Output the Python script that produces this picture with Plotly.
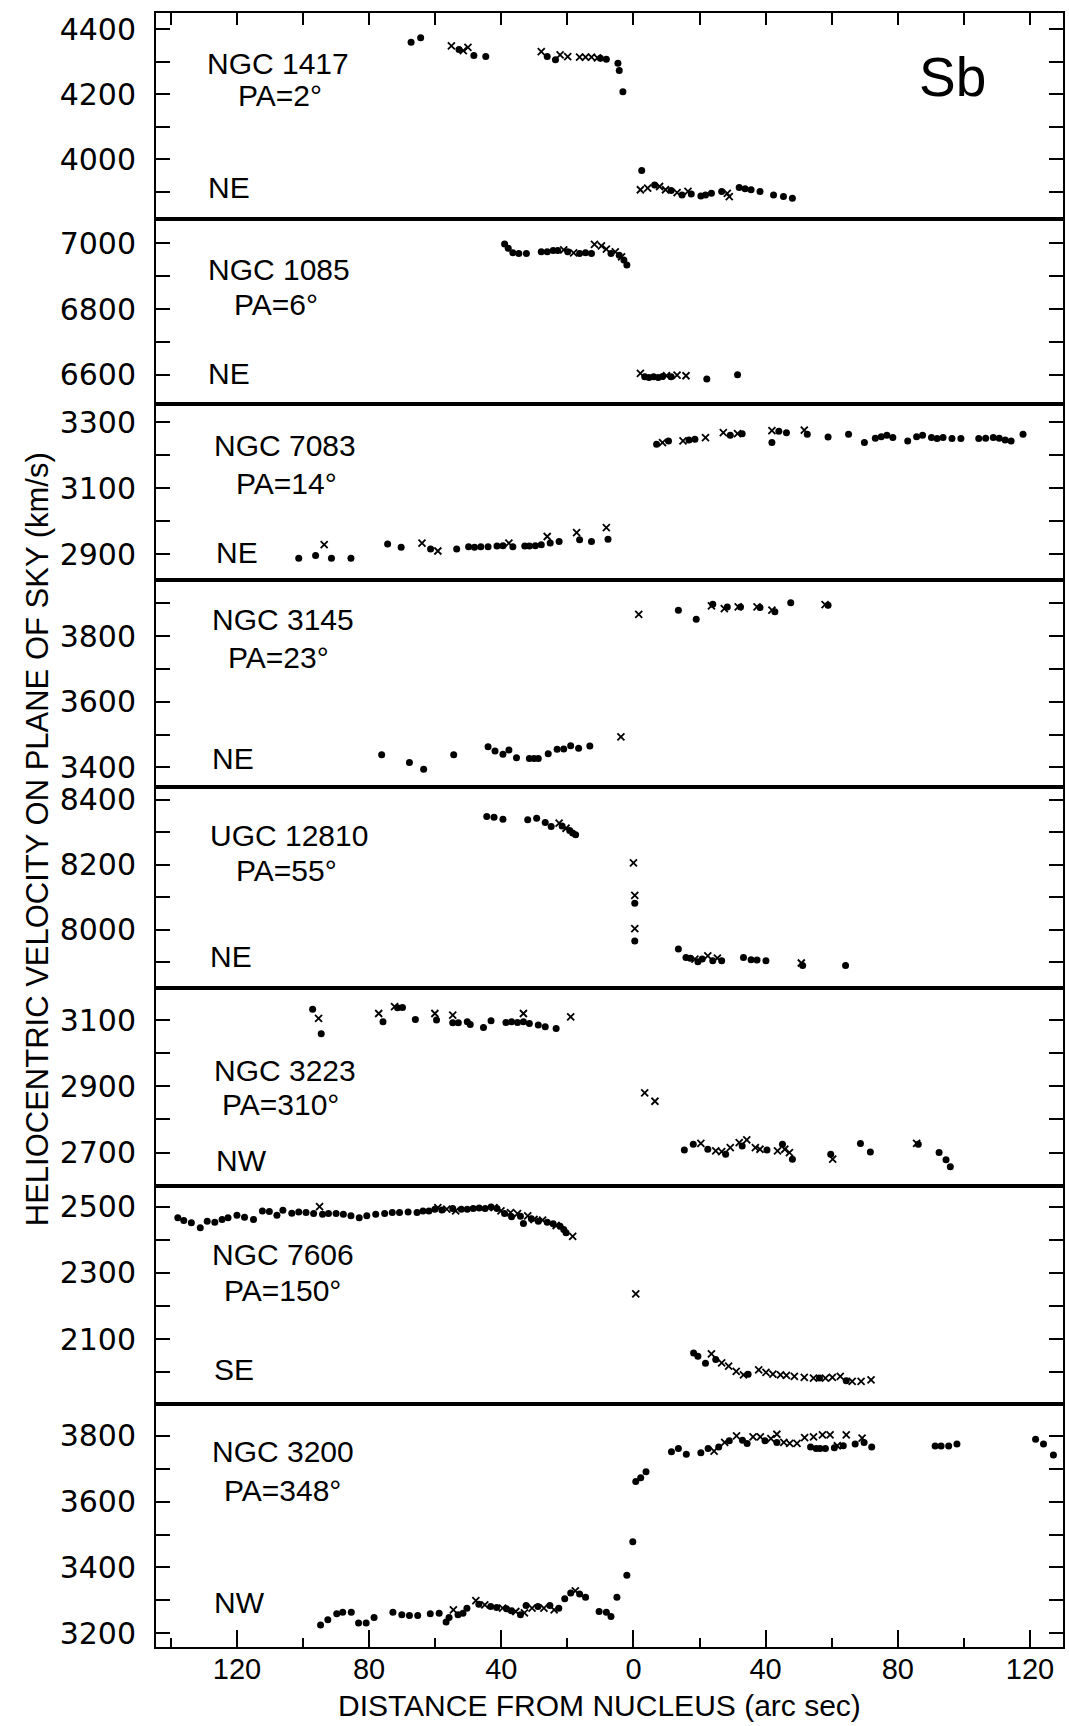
import plotly.graph_objects as go
from plotly.subplots import make_subplots

# ---------------- DATA (distance in arcsec, velocity in km/s) ----------------
# Panel 1: NGC 1417
n1417_dot_x = [-67.3, -64.4, -52.8, -48.3, -44.7, -26.1, -23.6, -10.0, -8.2, -4.7, -4.3, -3.2,
               2.5, 6.4, 11.4, 14.7, 17.5, 20.4, 21.8, 23.6, 26.7, 32.0, 33.8, 35.6, 38.3, 42.4, 45.4, 48.1]
n1417_dot_v = [4360, 4374, 4338, 4319, 4316, 4316, 4306, 4311, 4308, 4295, 4273, 4208,
               3965, 3921, 3904, 3890, 3893, 3887, 3890, 3895, 3901, 3913, 3909, 3906, 3901, 3890, 3885, 3880]
n1417_x_x = [-55.1, -51.5, -50.1, -27.9, -22.2, -19.9, -16.3, -14.5, -12.7, -10.9,
             2.1, 4.3, 7.9, 9.7, 13.2, 16.5, 28.4, 29.0]
n1417_x_v = [4349, 4334, 4344, 4331, 4321, 4316, 4314, 4314, 4314, 4312,
             3906, 3911, 3916, 3906, 3897, 3901, 3895, 3885]

# Panel 2: NGC 1085
n1085_dot_x = [-39.0, -37.9, -36.5, -34.7, -32.4, -27.9, -26.1, -24.3, -22.9, -19.9, -16.3, -14.5, -12.7,
               -6.8, -4.3, -2.9, -2.0, 3.4, 4.7, 6.1, 7.5, 8.8, 11.4, 22.2, 31.5]
n1085_dot_v = [6998, 6985, 6971, 6969, 6969, 6974, 6974, 6978, 6978, 6974, 6969, 6971, 6969,
               6969, 6964, 6949, 6934, 6594, 6592, 6594, 6592, 6595, 6594, 6587, 6600]
n1085_x_x = [-21.1, -18.1, -11.8, -9.7, -8.2, -5.5, -3.6, 2.1, 10.0, 13.2, 15.9]
n1085_x_v = [6980, 6971, 6997, 6992, 6982, 6974, 6959, 6604, 6597, 6599, 6597]

# Panel 3: NGC 7083
n7083_dot_x = [7.0, 10.6, 16.8, 18.6, 29.3, 32.9, 41.9, 44.0, 46.3, 52.6, 58.9, 65.1, 69.9, 73.2, 75.0,
               76.7, 78.5, 83.0, 85.7, 87.5, 90.2, 91.9, 93.7, 96.4, 99.1, 104.5, 106.6, 108.9, 110.7,
               112.5, 114.3, 117.9,
               -101.3, -96.2, -91.4, -85.5, -74.4, -70.3, -61.4, -53.5, -49.9, -48.1, -46.2, -44.0,
               -41.3, -39.5, -36.5, -32.9, -31.5, -29.7, -27.9, -25.2, -22.5, -16.3, -12.7, -7.7]
n7083_dot_v = [3234, 3244, 3247, 3249, 3261, 3266, 3239, 3273, 3269, 3264, 3256, 3264, 3239, 3252, 3257,
               3261, 3254, 3244, 3257, 3261, 3254, 3251, 3254, 3251, 3251, 3251, 3252, 3254, 3252,
               3247, 3244, 3264,
               2888, 2896, 2888, 2888, 2931, 2921, 2916, 2916, 2923, 2921, 2923, 2923,
               2925, 2926, 2923, 2925, 2925, 2926, 2929, 2934, 2939, 2944, 2939, 2946]
n7083_x_x = [8.8, 15.0, 21.8, 27.2, 31.5, 41.9, 51.7,
             -93.6, -64.0, -59.2, -37.7, -26.1, -17.2, -8.2]
n7083_x_v = [3239, 3244, 3254, 3269, 3266, 3275, 3277,
             2929, 2934, 2910, 2934, 2954, 2966, 2981]

# Panel 4: NGC 3145
n3145_dot_x = [13.6, 19.0, 24.0, 28.4, 32.4, 38.3, 42.8, 47.6, 58.9,
               -76.2, -67.8, -63.5, -54.4, -44.0, -41.9, -39.5, -37.7, -35.4, -31.5, -30.1, -28.8,
               -25.8, -23.1, -21.1, -19.0, -16.6, -13.2]
n3145_dot_v = [3879, 3851, 3897, 3889, 3889, 3887, 3874, 3902, 3894,
               3438, 3415, 3394, 3438, 3463, 3450, 3440, 3453, 3429, 3427, 3427, 3427,
               3441, 3455, 3456, 3466, 3458, 3465]
n3145_x_x = [1.6, 23.6, 27.5, 31.7, 37.4, 41.9, 58.0, -3.8]
n3145_x_v = [3866, 3892, 3884, 3889, 3889, 3879, 3896, 3493]

# Panel 5: UGC 12810
u12810_dot_x = [-44.4, -42.2, -39.5, -32.0, -29.3, -26.7, -24.9, -21.6, -19.3, -18.4, -17.5,
                0.4, 0.4, 13.6, 15.9, 17.2, 19.5, 20.8, 24.0, 26.7, 33.3, 35.6, 37.4, 40.1, 51.2, 64.2]
u12810_dot_v = [8349, 8347, 8341, 8339, 8344, 8331, 8318, 8320, 8306, 8298, 8293,
                8082, 7966, 7941, 7915, 7913, 7902, 7910, 7905, 7905, 7915, 7908, 7907, 7905, 7890, 7890]
u12810_x_x = [-22.5, -20.4, 0.0, 0.4, 0.4, 18.6, 22.5, 25.4, 50.8]
u12810_x_v = [8329, 8313, 8206, 8106, 8004, 7910, 7920, 7913, 7898]

# Panel 6: NGC 3223
n3223_dot_x = [-97.1, -94.5, -75.8, -71.4, -69.9, -66.0, -59.6, -54.7, -53.0, -50.3, -49.4, -45.4,
               -43.1, -38.6, -36.9, -35.1, -33.3, -31.5, -28.8, -26.7, -23.4,
               15.4, 18.1, 22.5, 27.9, 32.9, 40.4, 45.1, 48.1, 59.7, 68.7, 71.7, 86.2, 92.5, 94.6, 95.9]
n3223_dot_v = [3133, 3059, 3095, 3137, 3138, 3102, 3100, 3092, 3092, 3095, 3087, 3078,
               3098, 3093, 3095, 3093, 3095, 3090, 3085, 3080, 3075,
               2708, 2725, 2710, 2695, 2720, 2708, 2725, 2680, 2695, 2727, 2702, 2725, 2700, 2678, 2657]
n3223_x_x = [-95.3, -77.1, -72.3, -60.1, -54.7, -33.3, -19.0, 3.4, 6.5,
             20.4, 24.9, 26.7, 29.3, 32.0, 34.3, 36.9, 38.3, 43.6, 45.8, 47.2, 60.3, 85.7]
n3223_x_v = [3105, 3120, 3141, 3120, 3115, 3120, 3110, 2880, 2855,
             2728, 2705, 2703, 2715, 2730, 2738, 2715, 2710, 2705, 2710, 2700, 2680, 2728]

# Panel 7: NGC 7606
n7606_dot_x = [-137.9, -136.1, -133.8, -131.1, -129.0, -126.7, -124.5, -122.7, -120.0, -117.7, -115.0,
               -112.3, -110.2, -107.9, -106.1, -103.4, -101.3, -99.1, -96.8, -94.1, -92.3, -90.0,
               -87.8, -85.5, -83.0, -80.7, -78.0, -75.3, -73.0, -70.8, -68.2, -65.5, -63.7, -61.9,
               -60.1, -58.0, -54.7, -52.1, -50.3, -48.5, -46.7, -44.9, -43.1, -41.3, -39.0, -36.9,
               -34.2, -33.3, -30.9, -28.8, -26.1, -24.3, -22.2, -21.1, -20.4,
               18.2, 19.5, 21.8, 24.9, 34.7, 56.3, 64.4]
n7606_dot_v = [2466, 2458, 2451, 2436, 2456, 2453, 2461, 2466, 2474, 2468, 2461,
               2487, 2485, 2474, 2489, 2480, 2484, 2482, 2479, 2477, 2479, 2479,
               2477, 2472, 2466, 2472, 2477, 2479, 2482, 2482, 2484, 2482, 2487, 2487,
               2492, 2490, 2494, 2492, 2492, 2494, 2496, 2494, 2499, 2494, 2479, 2469,
               2471, 2449, 2463, 2456, 2453, 2448, 2441, 2431, 2421,
               2059, 2049, 2028, 2039, 1995, 1983, 1975]
n7606_x_x = [-95.0, -59.2, -56.5, -53.8, -42.2, -40.1, -37.2, -35.1, -32.0, -30.1, -27.5, -23.4, -18.4,
             0.7, 23.6, 26.7, 28.8, 31.1, 33.3, 37.9, 40.1, 42.2, 44.5, 46.3, 48.7, 51.7, 54.5,
             58.1, 60.2, 62.6, 66.2, 68.9, 71.9]
n7606_x_v = [2500, 2497, 2492, 2487, 2497, 2487, 2482, 2479, 2472, 2461, 2459, 2443, 2410,
             2237, 2056, 2029, 2019, 2003, 1993, 2008, 2000, 1995, 1993, 1991, 1988, 1985, 1983,
             1983, 1985, 1988, 1973, 1973, 1978]

# Panel 8: NGC 3200
n3200_dot_x = [-94.7, -92.5, -89.8, -88.0, -85.4, -83.2, -80.9, -78.5, -72.8, -70.1, -67.8, -65.3,
               -61.5, -58.8, -56.7, -55.8, -53.1, -51.6, -50.4, -46.8, -43.2, -41.4, -38.4, -37.0,
               -34.2, -32.5, -28.9, -25.3, -22.6, -20.8, -19.0, -16.3, -14.5, -10.4, -8.2, -6.8,
               -5.0, -2.0, -0.2,
               0.7, 2.2, 3.8, 11.5, 13.6, 16.0, 20.4, 22.6, 25.8, 29.0, 33.0, 34.4, 39.8, 43.4,
               53.6, 55.3, 56.5, 58.1, 60.8, 63.5, 67.1, 69.8, 72.1, 91.3, 93.1, 95.4, 97.9,
               121.7, 124.1, 127.1]
n3200_dot_v = [3225, 3241, 3259, 3264, 3264, 3231, 3231, 3248, 3264, 3256, 3254, 3254,
               3259, 3261, 3234, 3248, 3256, 3261, 3276, 3288, 3281, 3278, 3274, 3268,
               3256, 3284, 3281, 3284, 3276, 3305, 3322, 3319, 3309, 3266, 3264, 3251,
               3309, 3376, 3478,
               3661, 3673, 3691, 3752, 3762, 3744, 3749, 3762, 3766, 3785, 3787, 3777, 3785, 3780,
               3766, 3762, 3762, 3762, 3764, 3770, 3775, 3780, 3766, 3769, 3769, 3769, 3775,
               3790, 3775, 3742]
n3200_x_x = [-54.5, -47.7, -45.0, -39.6, -35.6, -33.0, -30.7, -27.1, -24.0, -17.6,
             24.4, 27.6, 31.2, 36.2, 38.4, 41.6, 43.4, 45.5, 47.3, 49.5, 51.8, 54.5, 57.2,
             59.5, 61.7, 64.4, 69.2]
n3200_x_v = [3271, 3299, 3286, 3276, 3266, 3262, 3276, 3276, 3271, 3329,
             3754, 3780, 3800, 3797, 3797, 3792, 3805, 3780, 3777, 3777, 3795, 3797, 3803,
             3803, 3770, 3803, 3793]

galaxy_names = ["NGC 1417", "NGC 1085", "NGC 7083", "NGC 3145", "UGC 12810", "NGC 3223", "NGC 7606", "NGC 3200"]
pa_labels = ["PA=2°", "PA=6°", "PA=14°", "PA=23°", "PA=55°", "PA=310°", "PA=150°", "PA=348°"]
side_labels = ["NE", "NE", "NE", "NE", "NE", "NW", "SE", "NW"]
y_ranges = [[3816, 4450], [6511, 7074], [2822, 3356], [3340, 3971],
            [7821, 8440], [2599, 3197], [1905, 2562], [3158, 3897]]
y_tick0 = [0, 0, 100, 0, 0, 100, 100, 0]
x_tickvals = [-120, -80, -40, 0, 40, 80, 120]
x_ticktext = ["120", "80", "40", "0", "40", "80", "120"]
x_minor_tickvals = [-140, -100, -60, -20, 20, 60, 100]

dots = [(n1417_dot_x, n1417_dot_v), (n1085_dot_x, n1085_dot_v), (n7083_dot_x, n7083_dot_v),
        (n3145_dot_x, n3145_dot_v), (u12810_dot_x, u12810_dot_v), (n3223_dot_x, n3223_dot_v),
        (n7606_dot_x, n7606_dot_v), (n3200_dot_x, n3200_dot_v)]
crosses = [(n1417_x_x, n1417_x_v), (n1085_x_x, n1085_x_v), (n7083_x_x, n7083_x_v),
           (n3145_x_x, n3145_x_v), (u12810_x_x, u12810_x_v), (n3223_x_x, n3223_x_v),
           (n7606_x_x, n7606_x_v), (n3200_x_x, n3200_x_v)]

# ---------------- LAYOUT GEOMETRY (pixels) ----------------
W, H = 1069, 1726
ML, MR, MT, MB = 156, 4, 13, 79
bounds = [13, 219, 404, 580, 787, 988, 1186, 1404, 1647]
row_h = [bounds[i + 1] - bounds[i] for i in range(8)]
PW, PH = W - ML - MR, H - MT - MB

def px(xp):
    return (xp - ML) / PW

def py(yp):
    return (H - MB - yp) / PH

LETTER = "Liberation Sans, Arial, sans-serif"
WIDE = "DejaVu Sans, Verdana, sans-serif"

fig = make_subplots(rows=8, cols=1, shared_xaxes=True, vertical_spacing=0, row_heights=row_h)

for i in range(8):
    dx, dv = dots[i]
    cx, cv = crosses[i]
    fig.add_trace(go.Scatter(x=dx, y=dv, mode="markers", showlegend=False,
                             marker=dict(symbol="circle", size=7, color="black")), row=i + 1, col=1)
    fig.add_trace(go.Scatter(x=cx, y=cv, mode="markers", showlegend=False,
                             marker=dict(symbol="x-thin-open", size=7, color="black",
                                         line=dict(width=1.8, color="black"))), row=i + 1, col=1)

for i in range(8):
    r = i + 1
    xa = dict(range=[-144.5, 130], showgrid=False, zeroline=False, showline=True,
              linecolor="black", linewidth=2, mirror=True, ticks="")
    if r == 1:
        xa.update(side="top", ticks="inside", tick0=0, dtick=20, ticklen=12, tickwidth=2,
                  tickcolor="black", showticklabels=False)
    if r == 8:
        xa.update(ticks="inside", tickmode="array", tickvals=x_tickvals, ticktext=x_ticktext,
                  ticklen=17, tickwidth=2, tickcolor="black", showticklabels=True,
                  tickfont=dict(family=LETTER, size=29, color="black"), ticklabelstandoff=-5,
                  minor=dict(tickmode="array", tickvals=x_minor_tickvals, ticks="inside",
                             ticklen=9, tickwidth=2, tickcolor="black"))
    fig.update_xaxes(xa, row=r, col=1)
    fig.update_yaxes(dict(range=y_ranges[i], showgrid=False, zeroline=False, showline=True,
                          linecolor="black", linewidth=2, mirror="ticks", ticks="inside",
                          ticklen=14, tickwidth=2, tickcolor="black", tick0=y_tick0[i], dtick=200,
                          tickfont=dict(family=WIDE, size=30, color="black"), ticklabelstandoff=12,
                          minor=dict(tick0=y_tick0[i], dtick=100, ticks="inside", ticklen=14,
                                     tickwidth=2, tickcolor="black")),
                     row=r, col=1)

# panel labels: (name x, name y), (pa x, pa y), (side x, side y)
label_pos = [
    ((205, 64), (236, 96), (206, 188)),
    ((206, 269), (232, 305), (206, 374)),
    ((212, 445), (234, 483), (214, 552)),
    ((210, 620), (226, 657), (210, 758)),
    ((208, 836), (234, 870), (208, 956)),
    ((212, 1070), (220, 1104), (214, 1160)),
    ((210, 1254), (222, 1290), (212, 1369)),
    ((210, 1451), (222, 1490), (212, 1602)),
]
annos = []
for i in range(8):
    for txt, (xp, yp) in zip([galaxy_names[i], pa_labels[i], side_labels[i]], label_pos[i]):
        annos.append(dict(text=txt, x=px(xp), y=py(yp), xref="paper", yref="paper",
                          xanchor="left", yanchor="middle", showarrow=False,
                          font=dict(family=LETTER, size=30, color="black")))
annos.append(dict(text="Sb", x=px(954), y=py(77), xref="paper", yref="paper",
                  xanchor="center", yanchor="middle", showarrow=False,
                  font=dict(family=LETTER, size=55, color="black")))
annos.append(dict(text="HELIOCENTRIC VELOCITY ON PLANE OF SKY (km/s)", x=px(38), y=py(839),
                  xref="paper", yref="paper", xanchor="center", yanchor="middle", textangle=-90,
                  showarrow=False, font=dict(family=LETTER, size=31, color="black")))
annos.append(dict(text="DISTANCE FROM NUCLEUS (arc sec)", x=px(600), y=py(1706),
                  xref="paper", yref="paper", xanchor="center", yanchor="middle",
                  showarrow=False, font=dict(family=LETTER, size=30, color="black")))

fig.update_layout(width=W, height=H, margin=dict(l=ML, r=MR, t=MT, b=MB),
                  plot_bgcolor="white", paper_bgcolor="white", annotations=annos)

fig.write_html("out.html")
